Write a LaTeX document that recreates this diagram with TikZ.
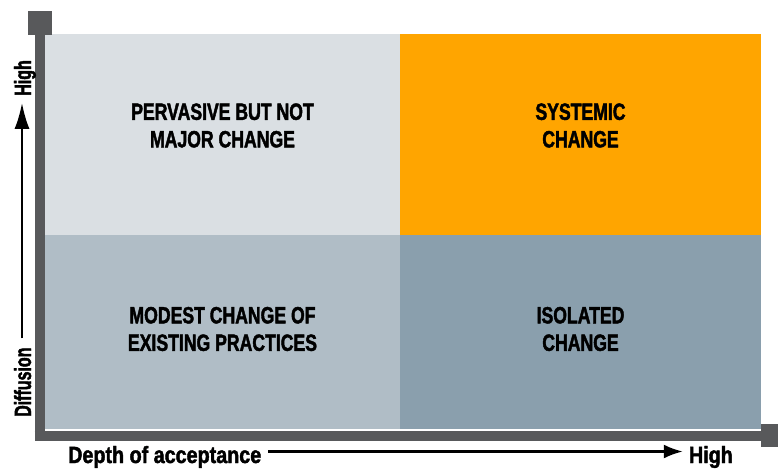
\documentclass[tikz,border=0pt]{standalone}
\usepackage{fontspec}
\usepackage{tikz}
\usetikzlibrary{positioning,calc}
\usetikzlibrary{arrows.meta}
\newfontfamily\quadfont{Liberation Sans Bold}[FakeStretch=0.75, FakeBold=1.8]
\newfontfamily\axisfont{Liberation Sans Bold}[FakeStretch=0.84, FakeBold=1.8]
\newfontfamily\vaxisfont{Liberation Sans Bold}[FakeStretch=0.68, FakeBold=1.8]
\definecolor{quadlight}{HTML}{DADFE3}
\definecolor{quadorange}{HTML}{FFA500}
\definecolor{quadmid}{HTML}{B0BDC6}
\definecolor{quaddark}{HTML}{8A9FAD}
\definecolor{axisgray}{HTML}{58595B}
\tikzstyle{arrow} = [line width=2.2pt,-{Latex[length=19pt,width=14pt]}]

\begin{document}
\begin{tikzpicture}[x=1pt,y=-1pt,
	quadrant/.style={rectangle, draw=none, inner sep=0pt, outer sep=0pt},
	quadtext/.style={align=center, inner sep=0pt, font=\quadfont\fontsize{23.5}{27.5}\selectfont},
	axistext/.style={inner sep=0pt, font=\axisfont\fontsize{23.5}{27.5}\selectfont},
	vaxistext/.style={inner sep=0pt, rotate=90, font=\vaxisfont\fontsize{23.5}{27.5}\selectfont},
	axis/.style={axisgray, line width=10pt, line cap=butt}]
	
	\useasboundingbox (0,0) rectangle (778,468);
	
	% QUADRANTS
	
	\node [quadrant, fill=quadlight, minimum width=355pt, minimum height=201pt, anchor=north west] (pervasive) at (45,34) {};
	\node [quadrant, fill=quadorange, minimum width=361pt, minimum height=201pt, right=0pt of pervasive] (systemic) {};
	\node [quadrant, fill=quadmid, minimum width=355pt, minimum height=194pt, below=0pt of pervasive] (modest) {};
	\node [quadrant, fill=quaddark, minimum width=361pt, minimum height=194pt, below=0pt of systemic] (isolated) {};
	
	\node [quadtext] (pervasivetext) at ($(pervasive.center)+(0,-9)$) {PERVASIVE BUT NOT\\MAJOR CHANGE};
	\node [quadtext] (systemictext) at ($(systemic.center)+(0,-9)$) {SYSTEMIC\\CHANGE};
	\node [quadtext] (modesttext) at ($(modest.center)+(0,-3)$) {MODEST CHANGE OF\\EXISTING PRACTICES};
	\node [quadtext] (isolatedtext) at ($(isolated.center)+(0,-3)$) {ISOLATED\\CHANGE};
	
	% AXES
	
	\coordinate (origin) at (39.5,440.5);
	\coordinate (ytop) at (39.5,11);
	\coordinate (xstart) at (34.5,435.5);
	\coordinate (xend) at (778,435.5);
	\draw [axis, -{Square[length=24pt,width=24pt]}] (origin) -- (ytop);
	\draw [axis, -{Square[length=17pt,width=23pt]}] (xstart) -- (xend);
	
	% AXIS LABELS
	
	\node [axistext, anchor=base west] (depth) at (68,463) {Depth of acceptance};
	\node [axistext, anchor=base east] (depthhigh) at (733,463) {High};
	\node [vaxistext, anchor=base west] (diffusion) at (31,417) {Diffusion};
	\node [vaxistext, anchor=base east] (diffhigh) at (31,60) {High};
	
	\coordinate (arrowrow) at (0,451.5);
	\coordinate (arrowcol) at (22,0);
	\draw [arrow, shorten <=7pt, shorten >=6pt] (depth.east |- arrowrow) -- (depthhigh.west |- arrowrow);
	\draw [line width=2.2pt, -{Latex[length=26pt,width=15pt]}, shorten <=9pt, shorten >=7pt] (arrowcol |- diffusion.east) -- (arrowcol |- diffhigh.west);
	
\end{tikzpicture}
\end{document}
